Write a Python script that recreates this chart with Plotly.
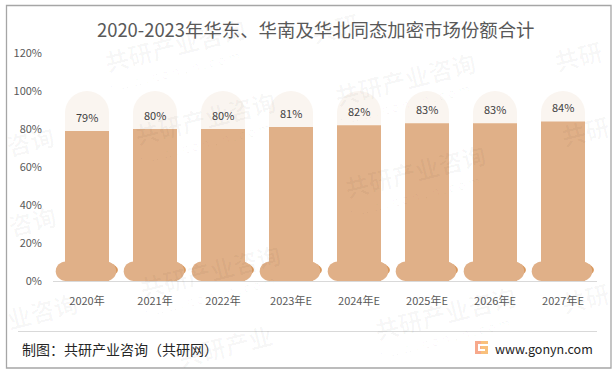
import plotly.graph_objects as go

categories = ["2020年", "2021年", "2022年", "2023年E", "2024年E", "2025年E", "2026年E", "2027年E"]
values = [79, 80, 80, 81, 82, 83, 83, 84]
capsule = [100] * 8
y_ticks = [0, 20, 40, 60, 80, 100, 120]
y_labels = ["0%", "20%", "40%", "60%", "80%", "100%", "120%"]
title_text = "2020-2023年华东、华南及华北同态加密市场份额合计"
source_text = "制图：共研产业咨询（共研网）"
site_text = "www.gonyn.com"
watermark_full = [(175, 45), (405, 78), (205, 117), (415, 170), (210, 270), (445, 312)]
watermark_part = [("咨询", 30, 140), ("共研", 578, 55), ("共研", 585, 130), ("咨询", 32, 220),
                  ("业咨询", 42, 310), ("共研", 585, 297), ("共研", 335, 27), ("共研产业", 225, 345)]

W, H = 616, 374
L, R, T, B = 53, 597, 53, 281
FONT = "Noto Sans CJK SC"
px = lambda x: (x - L) / (R - L)
py = lambda y: (B - y) / (B - T)

BAR = "#E0B088"
PALE = "#FAF5F0"
DARK = "#D9975B"
MARK = "rgba(0,0,0,0.03)"

fig = go.Figure()
xs = list(range(len(categories)))
fig.add_trace(go.Bar(x=xs, y=capsule, width=0.647, marker=dict(color=PALE, cornerradius=22, line_width=0), hoverinfo="skip"))
fig.add_trace(go.Bar(x=xs, y=values, width=0.647, marker=dict(color=BAR, line_width=0)))

shapes = []
for i in xs:
    shapes.append(dict(type="circle", xref="x", yref="y", layer="below", x0=i - 0.455, x1=i + 0.455,
                       y0=0.4, y1=11.2, fillcolor=DARK, line_width=0))
    x0, x1, y0, y1 = i - 0.46, i + 0.43, 0, 10.2
    k, m, c = 0.15, 5.1, 0.55
    ym = (y0 + y1) / 2
    path = (f"M {x0+k},{y0} L {x1-k},{y0} "
            f"C {x1-k+k*c},{y0} {x1},{ym-m*c} {x1},{ym} C {x1},{ym+m*c} {x1-k+k*c},{y1} {x1-k},{y1} "
            f"L {x0+k},{y1} "
            f"C {x0+k-k*c},{y1} {x0},{ym+m*c} {x0},{ym} C {x0},{ym-m*c} {x0+k-k*c},{y0} {x0+k},{y0} Z")
    shapes.append(dict(type="path", xref="x", yref="y", layer="below", path=path, fillcolor=BAR, line_width=0))

# frame and footer
shapes.append(dict(type="rect", xref="paper", yref="paper", x0=px(6.5), x1=px(611), y0=py(5.5), y1=py(368),
                   line=dict(color="#A6A6A6", width=1.3), layer="below"))
shapes.append(dict(type="line", xref="paper", yref="paper", x0=px(18), x1=px(597), y0=py(331.5), y1=py(331.5),
                   line=dict(color="#D9D9D9", width=1)))
# logo
def logo(x0, x1, y0, y1, color):
    shapes.append(dict(type="rect", xref="paper", yref="paper", x0=px(x0), x1=px(x1), y0=py(y0), y1=py(y1),
                       fillcolor=color, line_width=0))
logo(475, 488, 341, 354, "#F9C07C")
logo(475, 481, 341, 354, "#F7A98C")
logo(478, 488, 344, 346, "white")
logo(478, 480, 344, 351, "white")
logo(478, 485, 349, 351, "white")

ann = []
def note(text, x, y, size, color, xanchor="center", angle=0):
    ann.append(dict(text=text, xref="paper", yref="paper", x=px(x), y=py(y), xanchor=xanchor, yanchor="middle",
                    showarrow=False, textangle=angle, font=dict(family=FONT, size=size, color=color)))

for cx, cy in watermark_full:
    note("<b>共研产业咨询</b>", cx, cy, 24, MARK, angle=-14)
    note("w w w . g o n y n . c o m", cx - 2, cy + 26, 13, MARK, angle=-14)
for word, cx, cy in watermark_part:
    note(f"<b>{word}</b>", cx, cy, 24, MARK, angle=-14)
for x, v in zip(xs, values):
    ann.append(dict(text=f"{v}%", x=x, y=v, xref="x", yref="y", yshift=14, xanchor="center", yanchor="middle",
                    showarrow=False, font=dict(family=FONT, size=11, color="#404040")))
note(title_text, 315, 29, 18.4, "#595959")
note(source_text, 20, 349, 14, "#262626", xanchor="left")
note(site_text, 493, 348, 12.5, "#222222", xanchor="left")

fig.update_layout(
    width=W, height=H, barmode="overlay", showlegend=False,
    paper_bgcolor="white", plot_bgcolor="rgba(0,0,0,0)",
    margin=dict(l=L, r=W - R, t=T, b=H - B, pad=0),
    shapes=shapes, annotations=ann,
    font=dict(family=FONT, size=11, color="#595959"),
)
fig.update_xaxes(range=[-0.5, 7.5], tickmode="array", tickvals=xs, ticktext=categories, showgrid=False, zeroline=False,
                 showline=True, linecolor="#D9D9D9", linewidth=1, ticks="", ticklabelstandoff=10,
                 tickfont=dict(family=FONT, size=11, color="#595959"))
fig.update_yaxes(range=[0, 120], tickmode="array", tickvals=y_ticks, ticktext=y_labels, showgrid=False, zeroline=False,
                 showline=False, ticks="", ticklabelstandoff=10,
                 tickfont=dict(family=FONT, size=11, color="#595959"))

fig.write_html("out.html", config=dict(displayModeBar=False),
               post_script="document.body.style.margin='0';document.documentElement.style.overflow='hidden';")
